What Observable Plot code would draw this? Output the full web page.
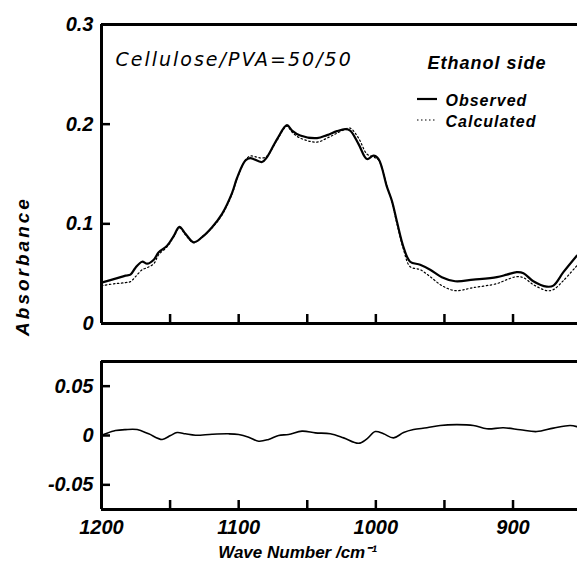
<!DOCTYPE html>
<html><head><meta charset="utf-8">
<script src="https://cdn.jsdelivr.net/npm/d3@7"></script>
<script src="https://cdn.jsdelivr.net/npm/@observablehq/plot@0.6"></script>
<style>
body{margin:0;background:#fff;}
#chart{width:577px;height:563px;position:relative;overflow:hidden;background:#fff}
#chart svg{display:block}
</style></head><body><div id="chart"></div>
<script>
// Spectrum (top panel)
const waveNumbers = [1200,1189.8,1182.5,1178.9,1175.2,1170.4,1166.7,1161.9,1158.3,1152.2,1147.3,1143.2,1138.8,1132.8,1126.7,1119.4,1112.1,1104.8,1101.2,1095.1,1091.5,1083.0,1079.3,1072.0,1064.8,1061.1,1055.1,1042.9,1035.6,1028.3,1022.3,1018.7,1012.6,1006.5,1001.7,998.0,991.9,988.3,984.6,979.8,975.0,967.7,960.4,951.9,942.2,928.9,911.8,904.5,897.3,892.4,885.2,875.4,870.6,863.3,853.5];
const observed = [0.041,0.045,0.048,0.049,0.056,0.062,0.060,0.064,0.0715,0.078,0.088,0.097,0.090,0.0815,0.0866,0.0966,0.110,0.131,0.146,0.1635,0.166,0.162,0.167,0.185,0.199,0.1936,0.1886,0.186,0.189,0.193,0.195,0.1936,0.180,0.165,0.1685,0.165,0.137,0.123,0.102,0.0765,0.062,0.059,0.054,0.0465,0.0424,0.044,0.0465,0.049,0.0515,0.0505,0.0424,0.037,0.038,0.0515,0.068];
const calculated = [0.038,0.040,0.041,0.042,0.047,0.054,0.056,0.060,0.069,0.077,0.087,0.096,0.089,0.081,0.087,0.096,0.109,0.130,0.145,0.164,0.168,0.166,0.168,0.184,0.198,0.192,0.186,0.182,0.186,0.191,0.195,0.196,0.186,0.170,0.167,0.164,0.138,0.122,0.100,0.074,0.057,0.054,0.047,0.038,0.033,0.036,0.040,0.044,0.047,0.046,0.039,0.033,0.034,0.043,0.058];
// Residual (bottom panel)
const residualWave = [1200,1197.1,1189.8,1182.5,1174.0,1165.6,1155.8,1149.7,1144.9,1138.8,1131.5,1119.4,1107.3,1100.0,1092.7,1085.4,1078.2,1070.9,1063.6,1053.8,1044.1,1033.2,1023.5,1012.6,1006.5,1000.4,994.4,987.1,979.8,972.5,962.8,953.1,940.9,928.9,919.1,907.0,894.8,882.7,870.6,858.4,853.5];
const residual = [0,0.0017,0.005,0.006,0.006,0.0017,-0.004,0,0.003,0.0017,0.0003,0.0013,0.0017,0.001,-0.0017,-0.0058,-0.004,0,0.001,0.0044,0.0027,0.0017,-0.0024,-0.0079,-0.0034,0.004,0.0017,-0.0024,0.003,0.006,0.0078,0.0102,0.011,0.0102,0.0068,0.0078,0.0058,0.004,0.0075,0.0102,0.009];
// Axes
const xDomain = [1200, 853];
const xTickValues = [1150,1100,1050,1000,950,900];
const xLabelValues = [1200,1100,1000,900];
const absDomain = [0, 0.3];
const absTicks = [0, 0.1, 0.2, 0.3];
const resDomain = [-0.075, 0.075];
const resTicks = [-0.05, 0, 0.05];
// Texts
const sampleText = "Cellulose/PVA=50/50";
const sideText = "Ethanol side";
const legendLabels = ["Observed", "Calculated"];
const yTitle = "Absorbance";
const xTitle = "Wave Number /cm\u207B\u00B9";

const spectrum = waveNumbers.map((w, i) => ({wave: w, observed: observed[i], calculated: calculated[i]}));
const resData = residualWave.map((w, i) => ({wave: w, residual: residual[i]}));

const baseStyle = {fontFamily: "'Liberation Sans', Arial, sans-serif", fontWeight: "bold", fontStyle: "italic", fontSize: "20px", color: "#000", background: "#fff"};
const bold = {fontFamily: "'Liberation Sans', Arial, sans-serif", fontWeight: "bold", fontStyle: "italic"};

// layout
const W = 577, ML = 101, MR = 0;
const topLayout = {height: 340, marginTop: 24, marginBottom: 17};
const botLayout = {height: 223, marginTop: 21, marginBottom: 54};
const tickPx = 9;
const frameW = W - ML - MR;
const frameH = lay => lay.height - lay.marginTop - lay.marginBottom;

// inward tick marks as short rules; their length is converted from pixels to data units
const xTickSpan = (xDomain[0] - xDomain[1]) * tickPx / frameW;
const inwardY = ticks => Plot.ruleY(ticks, {y: d => d, x1: xDomain[0], x2: xDomain[0] - xTickSpan, stroke: "#000", strokeWidth: 2.5});
const inwardX = (ticks, dom, lay) => {
  const span = (dom[1] - dom[0]) * tickPx / frameH(lay);
  return Plot.ruleX(ticks, {x: d => d, y1: dom[0], y2: dom[0] + span, stroke: "#000", strokeWidth: 2.5});
};

const topPlot = Plot.plot({
  width: W, ...topLayout, marginLeft: ML, marginRight: MR,
  x: {domain: xDomain},
  y: {domain: absDomain},
  style: baseStyle,
  marks: [
    Plot.axisY({ticks: absTicks, tickSize: 0, tickPadding: 8, tickFormat: String, label: null}),
    Plot.axisX({ticks: [], tickSize: 0, label: null}),
    inwardY(absTicks),
    inwardX(xTickValues, absDomain, topLayout),
    Plot.ruleY(absDomain, {strokeWidth: 3}),
    Plot.ruleX([xDomain[0]], {strokeWidth: 3}),
    Plot.line(spectrum, {x: "wave", y: "calculated", stroke: "#000", strokeWidth: 1.2, strokeDasharray: "1.5,2.5", curve: "catmull-rom", clip: true}),
    Plot.line(spectrum, {x: "wave", y: "observed", stroke: "#000", strokeWidth: 2.2, curve: "catmull-rom", clip: true}),
    Plot.text([sampleText], {text: d => d, frameAnchor: "top-left", dx: 14, dy: 41, lineAnchor: "bottom", textAnchor: "start", fontFamily: "'DejaVu Sans', sans-serif", fontWeight: "normal", fontStyle: "italic", fontSize: 19}),
    Plot.text([sideText], {text: d => d, frameAnchor: "top-left", dx: 326, dy: 44, lineAnchor: "bottom", textAnchor: "start", ...bold, fontSize: 18}),
    Plot.text([legendLabels[0]], {text: d => d, frameAnchor: "top-left", dx: 344, dy: 81, lineAnchor: "bottom", textAnchor: "start", ...bold, fontSize: 16}),
    Plot.text([legendLabels[1]], {text: d => d, frameAnchor: "top-left", dx: 344, dy: 102, lineAnchor: "bottom", textAnchor: "start", ...bold, fontSize: 16}),
    Plot.text([yTitle], {text: d => d, frameAnchor: "left", dx: -79, dy: 92, rotate: -90, lineAnchor: "middle", textAnchor: "middle", ...bold, fontSize: 19})
  ]
});

const botPlot = Plot.plot({
  width: W, ...botLayout, marginLeft: ML, marginRight: MR,
  x: {domain: xDomain},
  y: {domain: resDomain},
  style: baseStyle,
  marks: [
    Plot.axisY({ticks: resTicks, tickSize: 0, tickPadding: 8, tickFormat: String, label: null}),
    Plot.axisX({ticks: xLabelValues, tickSize: 0, tickPadding: 10, tickFormat: String, label: null}),
    inwardY(resTicks),
    inwardX(xTickValues, resDomain, botLayout),
    Plot.ruleY(resDomain, {strokeWidth: 3}),
    Plot.ruleX([xDomain[0]], {strokeWidth: 3}),
    Plot.line(resData, {x: "wave", y: "residual", stroke: "#000", strokeWidth: 1.6, curve: "catmull-rom", clip: true}),
    Plot.text([xTitle], {text: d => d, frameAnchor: "bottom", dx: -42, dy: 48, lineAnchor: "bottom", textAnchor: "middle", ...bold, fontSize: 17})
  ]
});

const chart = document.getElementById("chart");
chart.appendChild(topPlot);
chart.appendChild(botPlot);

// letter spacing tweaks for the wide lettering of the original
const spacing = {[sampleText]: "2px", [sideText]: "1px", [legendLabels[0]]: "1px", [legendLabels[1]]: "1px", [yTitle]: "3px"};
d3.select(topPlot).selectAll("text").each(function() {
  const s = spacing[this.textContent];
  if (s) this.style.letterSpacing = s;
});

// legend swatches
const svgTop = d3.select(topPlot);
svgTop.append("line").attr("x1", 417).attr("x2", 437).attr("y1", 99).attr("y2", 99)
  .attr("stroke", "#000").attr("stroke-width", 2.2);
svgTop.append("line").attr("x1", 417).attr("x2", 437).attr("y1", 120).attr("y2", 120)
  .attr("stroke", "#000").attr("stroke-width", 1.2).attr("stroke-dasharray", "1.5,2.5");
</script></body></html>
